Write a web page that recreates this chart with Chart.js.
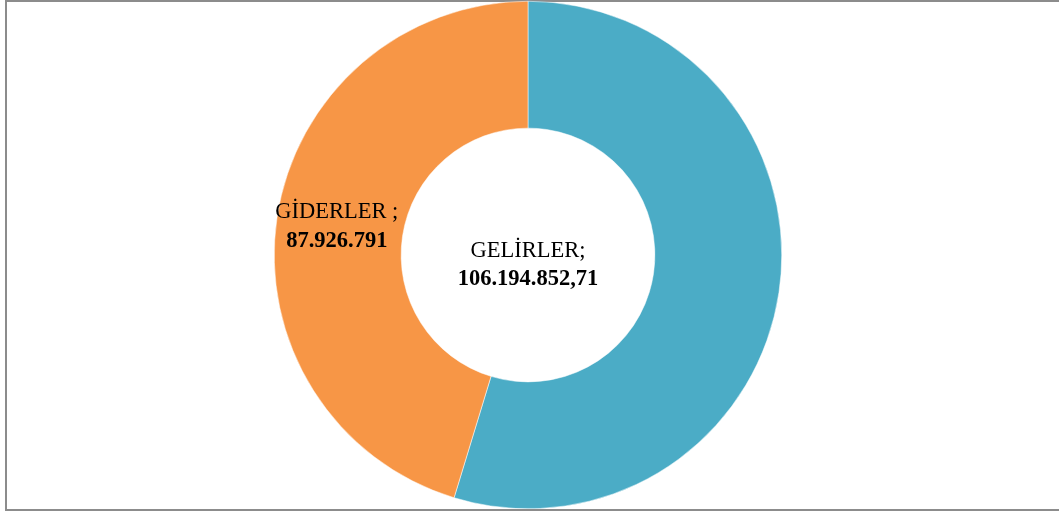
<!DOCTYPE html>
<html>
<head>
<meta charset="utf-8">
<script src="https://cdn.jsdelivr.net/npm/chart.js@4/dist/chart.umd.min.js"></script>
<style>
  html, body { margin: 0; padding: 0; background: #fff; overflow: hidden; }
  #wrap { position: relative; width: 1059px; height: 514px; }
  #frame { position: absolute; left: 5px; top: 0; width: 1100px; height: 507px; border: 2px solid #8c8c8c; box-sizing: content-box; }
  canvas { position: absolute; left: 0; top: 0; }
</style>
</head>
<body>
<div id="wrap">
  <div id="frame"></div>
  <canvas id="chart" width="1059" height="514"></canvas>
</div>
<script>
const categories = ['GELİRLER', 'GİDERLER'];
const values = [106194852.71, 87926791];
const valueLabels = ['106.194.852,71', '87.926.791'];
const nameLabels = ['GELİRLER;', 'GİDERLER ;'];
const colors = ['#4bacc6', '#f79646'];

// labels: first one sits in the hole, second one on its slice
const labelPlugin = {
  id: 'sliceLabels',
  afterDatasetsDraw(chart) {
    const { ctx } = chart;
    const arcs = chart.getDatasetMeta(0).data;
    ctx.save();
    ctx.fillStyle = '#000';
    ctx.textAlign = 'center';
    ctx.textBaseline = 'alphabetic';
    arcs.forEach((arc, i) => {
      let x, y, o1, o2;
      if (i === 0) {
        x = arc.x; y = arc.y; o1 = 2; o2 = 30;
      } else {
        const p = arc.tooltipPosition();
        x = p.x - 3; y = p.y; o1 = -9; o2 = 20;
      }
      ctx.font = '22.5px "Liberation Serif", serif';
      ctx.fillText(nameLabels[i], x, y + o1);
      ctx.font = 'bold 22.5px "Liberation Serif", serif';
      ctx.fillText(valueLabels[i], x, y + o2);
    });
    ctx.restore();
  }
};

new Chart(document.getElementById('chart'), {
  type: 'doughnut',
  data: {
    labels: categories,
    datasets: [{
      data: values,
      backgroundColor: colors,
      borderColor: '#ffffff',
      borderWidth: 0.5
    }]
  },
  options: {
    responsive: false,
    animation: false,
    cutout: '50%',
    layout: { padding: { top: 1, bottom: 5, left: 0, right: 3 } },
    plugins: {
      legend: { display: false },
      tooltip: { enabled: false }
    }
  },
  plugins: [labelPlugin]
});
</script>
</body>
</html>
